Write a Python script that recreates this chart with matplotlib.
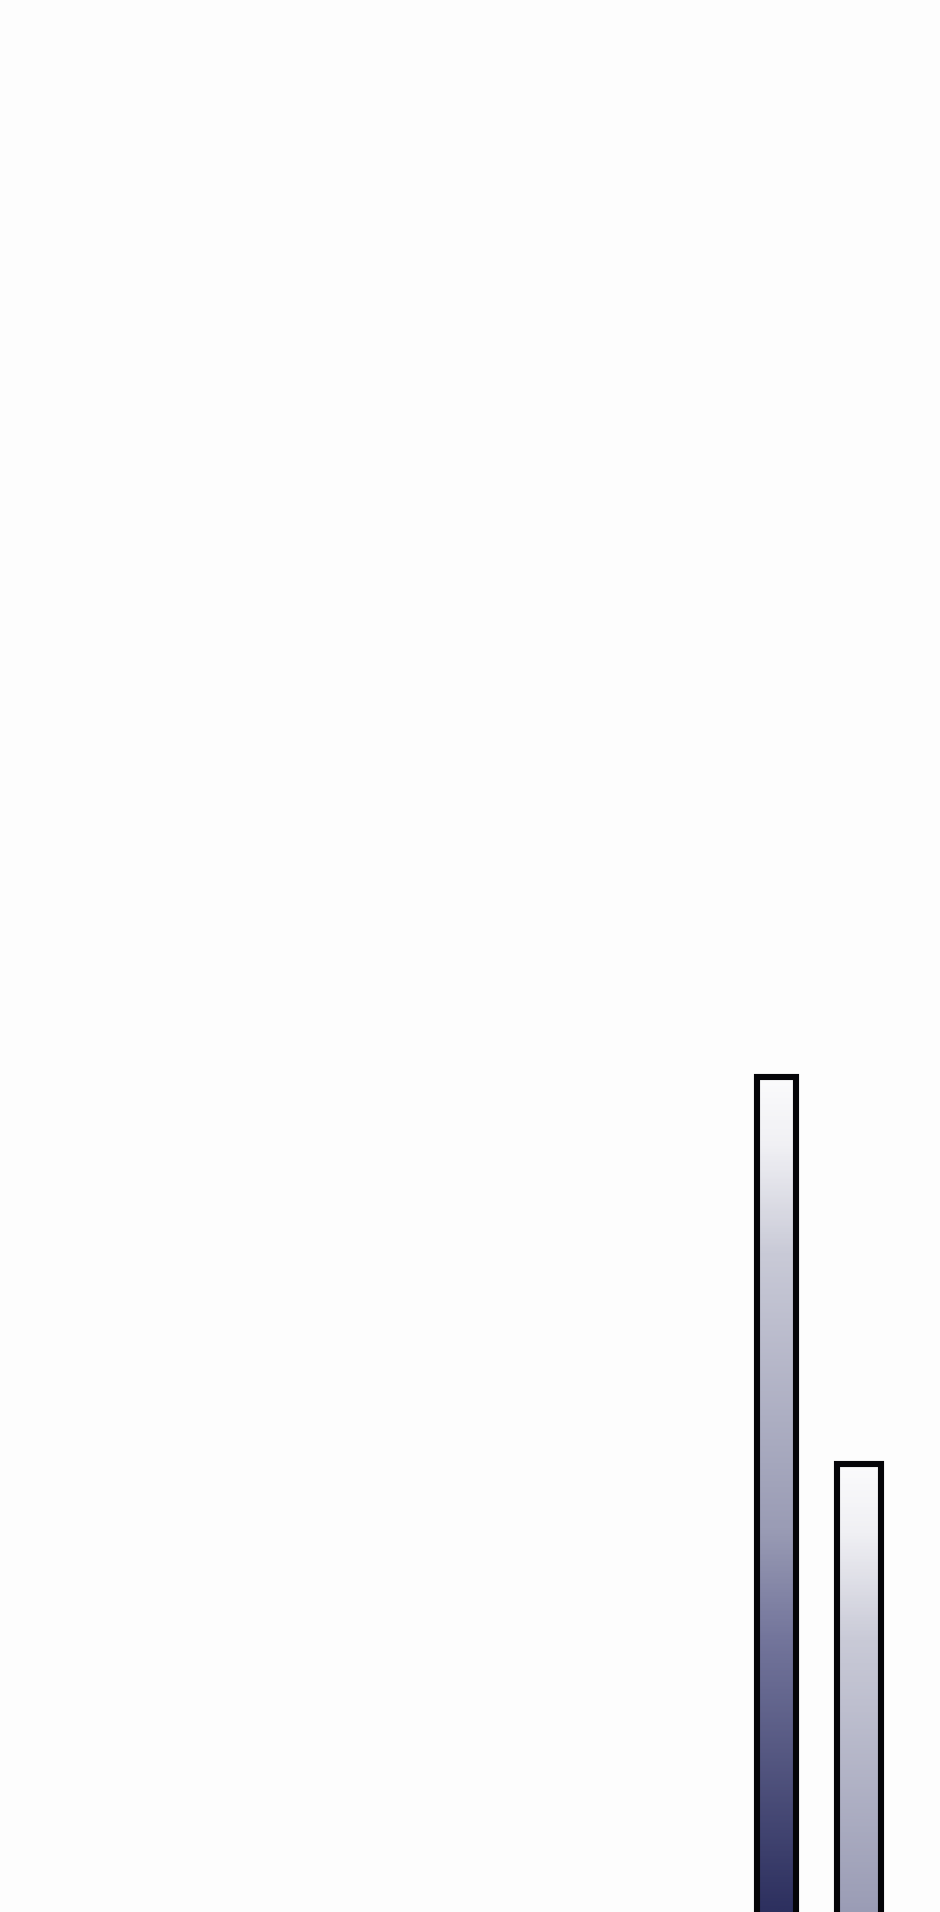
import matplotlib
matplotlib.use("Agg")
import matplotlib.pyplot as plt
import numpy as np
from matplotlib.colors import LinearSegmentedColormap

# two bars cropped at the bottom of the panel, heights in pixels above the bottom edge
categories = ["A", "B"]
values = [835, 448]
bar_centers = [776.5, 859]
bar_widths = [39, 44]

# gradient runs from white at the bar top to navy, by distance from the top
grad_stops = [(0.0, "#fbfbfc"), (0.08, "#f0f0f4"), (0.21, "#c9cad7"),
              (0.54, "#9a9cb5"), (0.67, "#74769c"), (1.0, "#2d305f")]
cmap = LinearSegmentedColormap.from_list("bar_grad", grad_stops)

fig = plt.figure(figsize=(9.4, 19.12), dpi=100, facecolor="#fdfdfd")
ax = fig.add_axes([0, 0, 1, 1])
ax.set_facecolor("#fdfdfd")
ax.axis("off")

# start the bars a little below the frame so the bottom edge is cut off
below = 12
heights = [v + below for v in values]
bars = ax.bar(bar_centers, heights, width=bar_widths, bottom=-below,
              facecolor="none", edgecolor="#050508", linewidth=4.4, zorder=3)

scale = max(values)
for bar, h in zip(bars, values):
    x0 = bar.get_x()
    x1 = x0 + bar.get_width()
    ys = np.linspace(h, -below, 400)
    grad = ((h - ys) / scale).reshape(-1, 1)
    im = ax.imshow(grad, cmap=cmap, vmin=0, vmax=1, aspect="auto",
                   extent=(x0, x1, -below, h), origin="upper", zorder=2,
                   interpolation="bilinear")
    im.set_clip_path(bar)

ax.set_xlim(0, 940)
ax.set_ylim(0, 1912)

fig.savefig("out.png", dpi=100, facecolor=fig.get_facecolor())
